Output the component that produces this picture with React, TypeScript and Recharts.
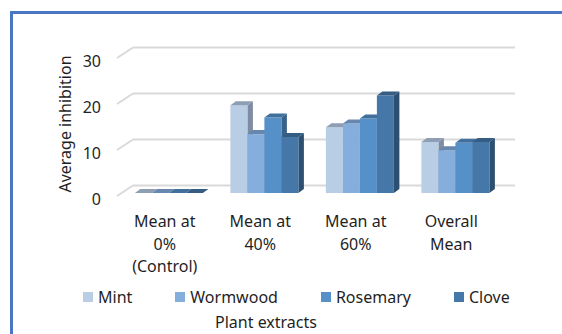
import { Bar, BarChart, CartesianGrid, Legend, XAxis, YAxis } from "recharts"

const CATEGORIES = ["Mean at\n0%\n(Control)", "Mean at\n40%", "Mean at\n60%", "Overall\nMean"]
const MINT = [0, 19.1, 14.3, 11.1]
const WORMWOOD = [0, 12.8, 15.1, 9.3]
const ROSEMARY = [0, 16.4, 16.2, 10.9]
const CLOVE = [0, 12.2, 21.2, 11.1]
const Y_TICKS = [0, 10, 20, 30]

const SERIES = [
  { key: "mint", name: "Mint", values: MINT, front: "#B9CDE5", top: "#8E9EB3", side: "#7D8CA2" },
  { key: "wormwood", name: "Wormwood", values: WORMWOOD, front: "#86AEDC", top: "#6787AE", side: "#5A779A" },
  { key: "rosemary", name: "Rosemary", values: ROSEMARY, front: "#5591C8", top: "#41709C", side: "#39628A" },
  { key: "clove", name: "Clove", values: CLOVE, front: "#4577A8", top: "#355C82", side: "#2D4F70" },
]

const data = CATEGORIES.map((label, i) => {
  const row: Record<string, string | number> = { label }
  SERIES.forEach((s) => (row[s.key] = s.values[i]))
  return row
})

const FONT = "'Noto Sans', sans-serif"
const TEXT = "#1f1f1f"
const GRID = "#D9D9D9"
const DX = 5.5
const DY = 4

function Bar3D(props: any) {
  const { x, y, width, height, colors } = props
  const w = width
  const h = Math.max(height, 0)
  const topFace = `${x},${y} ${x + DX},${y - DY} ${x + w + DX},${y - DY} ${x + w},${y}`
  const sideFace = `${x + w},${y} ${x + w + DX},${y - DY} ${x + w + DX},${y + h - DY} ${x + w},${y + h}`
  return (
    <g>
      {h > 0 && <polygon points={sideFace} fill={colors.side} />}
      {h > 0 && <rect x={x} y={y} width={w} height={h} fill={colors.front} />}
      <polygon points={topFace} fill={colors.top} />
    </g>
  )
}

function GridLine3D(props: any) {
  const { x1, x2, y1 } = props
  return (
    <g>
      <line x1={x1 - 5} y1={y1 + 3} x2={x1 + 11} y2={y1 - 7.5} stroke={GRID} strokeWidth={2} />
      <line x1={x1 + 11} y1={y1 - 7.5} x2={x2 + 11} y2={y1 - 7.5} stroke={GRID} strokeWidth={2} />
    </g>
  )
}

function CategoryTick(props: any) {
  const { x, y, payload } = props
  const lines = String(payload.value).split("\n")
  return (
    <text x={x - 5} y={y + 34} textAnchor="middle" fill={TEXT} fontSize={16} fontFamily={FONT}>
      {lines.map((line, i) => (
        <tspan key={i} x={x - 5} dy={i === 0 ? 0 : 22.5}>
          {line}
        </tspan>
      ))}
    </text>
  )
}

function ValueTick(props: any) {
  const { x, y, payload } = props
  return (
    <text x={x} y={y + 12} textAnchor="end" fill={TEXT} fontSize={16} fontFamily={FONT}>
      {payload.value}
    </text>
  )
}

function YTitle(props: any) {
  const { viewBox } = props
  const cx = viewBox.x + 71
  const cy = viewBox.y + viewBox.height / 2
  return (
    <text x={cx} y={cy} transform={`rotate(-90, ${cx}, ${cy})`} textAnchor="middle" fill={TEXT} fontSize={16} fontFamily={FONT}>
      Average inhibition
    </text>
  )
}

function LegendContent() {
  return (
    <div style={{ display: "flex", gap: 43, fontFamily: FONT, fontSize: 16, color: TEXT, lineHeight: "20px" }}>
      {SERIES.map((s) => (
        <div key={s.key} style={{ display: "flex", alignItems: "center" }}>
          <span style={{ width: 10, height: 10, background: s.front, marginRight: 5 }} />
          {s.name}
        </div>
      ))}
    </div>
  )
}

export default function App() {
  return (
    <div style={{ position: "absolute", left: 0, top: 0, width: 562, height: 334, overflow: "hidden", background: "#fff" }}>
      <div style={{ position: "absolute", left: 10, top: 11, width: 700, height: 500, border: "3px solid #4A76C6" }} />
      <div style={{ position: "absolute", left: 0, top: 0 }}>
        <BarChart
          width={562}
          height={334}
          data={data}
          margin={{ top: 55, right: 58, left: 0, bottom: 0 }}
          barCategoryGap="13.5%"
          barGap={0}
        >
          <CartesianGrid vertical={false} horizontal={(p: any) => <GridLine3D key={p.key} {...p} />} />
          <XAxis
            dataKey="label"
            axisLine={false}
            tickLine={false}
            tickSize={0}
            tickMargin={0}
            height={141}
            interval={0}
            tick={<CategoryTick />}
            label={{ value: "Plant extracts", position: "insideBottom", offset: 6, dx: -47, fill: TEXT, fontSize: 16, fontFamily: FONT }}
          />
          <YAxis
            width={122}
            domain={[0, 30]}
            ticks={Y_TICKS}
            axisLine={false}
            tickLine={false}
            tickSize={0}
            tickMargin={21}
            tick={<ValueTick />}
            label={<YTitle />}
          />
          <Legend
            layout="horizontal"
            verticalAlign="middle"
            align="center"
            wrapperStyle={{ top: 287, left: 83, width: "auto" }}
            content={<LegendContent />}
          />
          {SERIES.map((s) => (
            <Bar
              key={s.key}
              dataKey={s.key}
              name={s.name}
              isAnimationActive={false}
              shape={(p: any) => <Bar3D {...p} colors={s} />}
            />
          ))}
        </BarChart>
      </div>
    </div>
  )
}
